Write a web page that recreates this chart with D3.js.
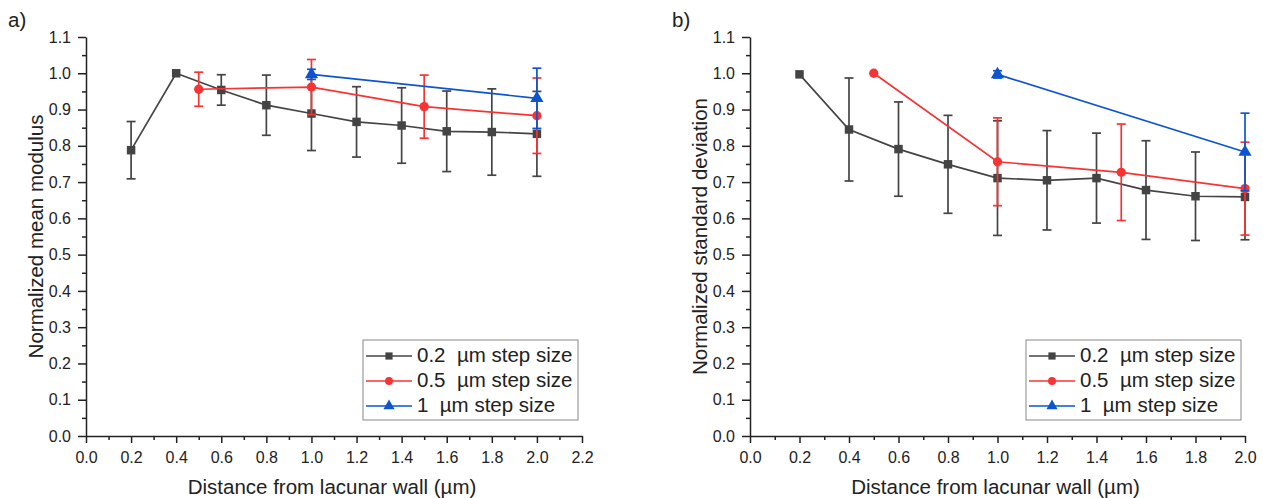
<!DOCTYPE html>
<html lang="en">
<head>
<meta charset="UTF-8">
<title>Normalized modulus vs distance from lacunar wall</title>
<script src="https://d3js.org/d3.v7.min.js"></script>
<style>
  body { margin: 0; background: #fff; font-family: Arial, "Liberation Sans", sans-serif; }
  .axis .tick text { font-size: 16px; fill: #222; font-family: Arial, "Liberation Sans", sans-serif; }
  .axis path, .axis line { stroke: #222; stroke-width: 1.5; }
  .title { font-size: 20.5px; fill: #222; }
  .legend text { font-size: 20.5px; fill: #222; white-space: pre; }
</style>
</head>
<body>
<div id="chart"></div>
<script>
// series definitions
const seriesNames = ["0.2  \u00b5m step size", "0.5  \u00b5m step size", "1  \u00b5m step size"];
const seriesColors = ["#444444", "#f83333", "#0d55d0"];
const seriesShapes = ["square", "circle", "triangle"];

// x positions per series
const x02 = [0.2, 0.4, 0.6, 0.8, 1.0, 1.2, 1.4, 1.6, 1.8, 2.0];
const x05 = [0.5, 1.0, 1.5, 2.0];
const x1 = [1.0, 2.0];

// panel a) normalized mean modulus
const meanA02 = [0.788, 1.0, 0.954, 0.912, 0.889, 0.866, 0.856, 0.840, 0.838, 0.833];
const errA02  = [0.079, 0, 0.042, 0.083, 0.102, 0.097, 0.104, 0.111, 0.119, 0.117];
const meanA05 = [0.956, 0.962, 0.908, 0.883];
const errA05  = [0.047, 0.076, 0.087, 0.104];
const meanA1  = [0.997, 0.931];
const errA1   = [0.014, 0.083];

// panel b) normalized standard deviation
const meanB02 = [0.997, 0.845, 0.791, 0.749, 0.711, 0.705, 0.711, 0.678, 0.661, 0.659];
const errB02  = [0, 0.142, 0.130, 0.135, 0.158, 0.137, 0.124, 0.136, 0.122, 0.118];
const meanB05 = [1.0, 0.756, 0.727, 0.682];
const errB05  = [0, 0.121, 0.133, 0.128];
const meanB1  = [0.997, 0.783];
const errB1   = [0.01, 0.107];

const yTicks = [0, 0.1, 0.2, 0.3, 0.4, 0.5, 0.6, 0.7, 0.8, 0.9, 1.0, 1.1];
const xTicksA = [0, 0.2, 0.4, 0.6, 0.8, 1.0, 1.2, 1.4, 1.6, 1.8, 2.0, 2.2];
const xTicksB = [0, 0.2, 0.4, 0.6, 0.8, 1.0, 1.2, 1.4, 1.6, 1.8, 2.0];

const W = 1263, H = 498;
const svg = d3.select("#chart").append("svg").attr("width", W).attr("height", H);

function makeSeries(xs, ys, es) {
  return xs.map((x, i) => ({ x: x, y: ys[i], e: es[i] }));
}

function drawPanel(opt) {
  const x = d3.scaleLinear().domain([0, opt.xMax]).range([opt.left, opt.right]);
  const y = d3.scaleLinear().domain([0, 1.1]).range([436, 37]);
  const g = svg.append("g");

  // minor ticks
  const yMinor = d3.range(0.05, 1.1, 0.1);
  g.append("g").attr("class", "axis")
    .attr("transform", `translate(${opt.left},0)`)
    .call(d3.axisLeft(y).tickValues(yMinor).tickSize(4).tickFormat(""))
    .select(".domain").remove();
  const xMinor = d3.range(0.1, opt.xMax, 0.2);
  g.append("g").attr("class", "axis")
    .attr("transform", `translate(0,436)`)
    .call(d3.axisBottom(x).tickValues(xMinor).tickSize(4).tickFormat(""))
    .select(".domain").remove();

  // major axes
  g.append("g").attr("class", "axis")
    .attr("transform", `translate(${opt.left},0)`)
    .call(d3.axisLeft(y).tickValues(yTicks).tickSize(8).tickSizeOuter(0).tickPadding(7).tickFormat(d3.format(".1f")));
  g.append("g").attr("class", "axis")
    .attr("transform", `translate(0,436)`)
    .call(d3.axisBottom(x).tickValues(opt.xTicks).tickSize(7).tickSizeOuter(0).tickPadding(8.5).tickFormat(d3.format(".1f")));

  // titles
  g.append("text").attr("class", "title")
    .attr("transform", `translate(${opt.left - 43.5},${(436 + 37) / 2}) rotate(-90)`)
    .attr("text-anchor", "middle").text(opt.yTitle);
  g.append("text").attr("class", "title")
    .attr("x", (opt.left + opt.right) / 2 - 2).attr("y", 494)
    .attr("text-anchor", "middle").text("Distance from lacunar wall (\u00b5m)");
  g.append("text").attr("class", "title")
    .attr("x", opt.left - 78).attr("y", 27).text(opt.label);

  const line = d3.line().x(d => x(d.x)).y(d => y(d.y));

  opt.data.forEach((data, si) => {
    const c = seriesColors[si];
    const sg = g.append("g");
    sg.append("path").datum(data).attr("d", line)
      .attr("fill", "none").attr("stroke", c).attr("stroke-width", 1.7);
    const eb = sg.selectAll(".eb").data(data.filter(d => d.e > 0)).enter().append("g");
    eb.append("line").attr("x1", d => x(d.x)).attr("x2", d => x(d.x))
      .attr("y1", d => y(d.y - d.e)).attr("y2", d => y(d.y + d.e))
      .attr("stroke", c).attr("stroke-width", 1.7);
    [-1, 1].forEach(s => {
      eb.append("line").attr("x1", d => x(d.x) - 4.5).attr("x2", d => x(d.x) + 4.5)
        .attr("y1", d => y(d.y + s * d.e)).attr("y2", d => y(d.y + s * d.e))
        .attr("stroke", c).attr("stroke-width", 1.7);
    });
    drawMarkers(sg, data.map(d => [x(d.x), y(d.y)]), seriesShapes[si], c);
  });

  // legend
  const lg = g.append("g").attr("class", "legend");
  lg.append("rect").attr("x", opt.legX).attr("y", 340).attr("width", 215).attr("height", 80)
    .attr("fill", "#fff").attr("stroke", "#888").attr("stroke-width", 1);
  seriesNames.forEach((n, i) => {
    const ly = 356 + i * 25;
    lg.append("line").attr("x1", opt.legX + 3).attr("x2", opt.legX + 49)
      .attr("y1", ly).attr("y2", ly).attr("stroke", seriesColors[i]).attr("stroke-width", 1.7);
    drawMarkers(lg, [[opt.legX + 26, ly]], seriesShapes[i], seriesColors[i], 0.85);
    lg.append("text").attr("x", opt.legX + 54).attr("y", ly + 6)
      .attr("xml:space", "preserve").text(n);
  });
}

function drawMarkers(sel, pts, shape, color, k) {
  k = k || 1;
  const size = { square: 72, circle: 68, triangle: 75 }[shape] * k * k;
  const sym = { square: d3.symbolSquare, circle: d3.symbolCircle, triangle: d3.symbolTriangle }[shape];
  sel.selectAll(null).data(pts).enter().append("path")
    .attr("transform", d => `translate(${d[0]},${d[1]})`)
    .attr("d", d3.symbol().type(sym).size(size))
    .attr("fill", color);
}

drawPanel({
  left: 86, right: 582, xMax: 2.2, xTicks: xTicksA, legX: 363, label: "a)",
  yTitle: "Normalized mean modulus",
  data: [makeSeries(x02, meanA02, errA02), makeSeries(x05, meanA05, errA05), makeSeries(x1, meanA1, errA1)]
});
drawPanel({
  left: 750, right: 1245, xMax: 2.0, xTicks: xTicksB, legX: 1026, label: "b)",
  yTitle: "Normalized standard deviation",
  data: [makeSeries(x02, meanB02, errB02), makeSeries(x05, meanB05, errB05), makeSeries(x1, meanB1, errB1)]
});
</script>
</body>
</html>
